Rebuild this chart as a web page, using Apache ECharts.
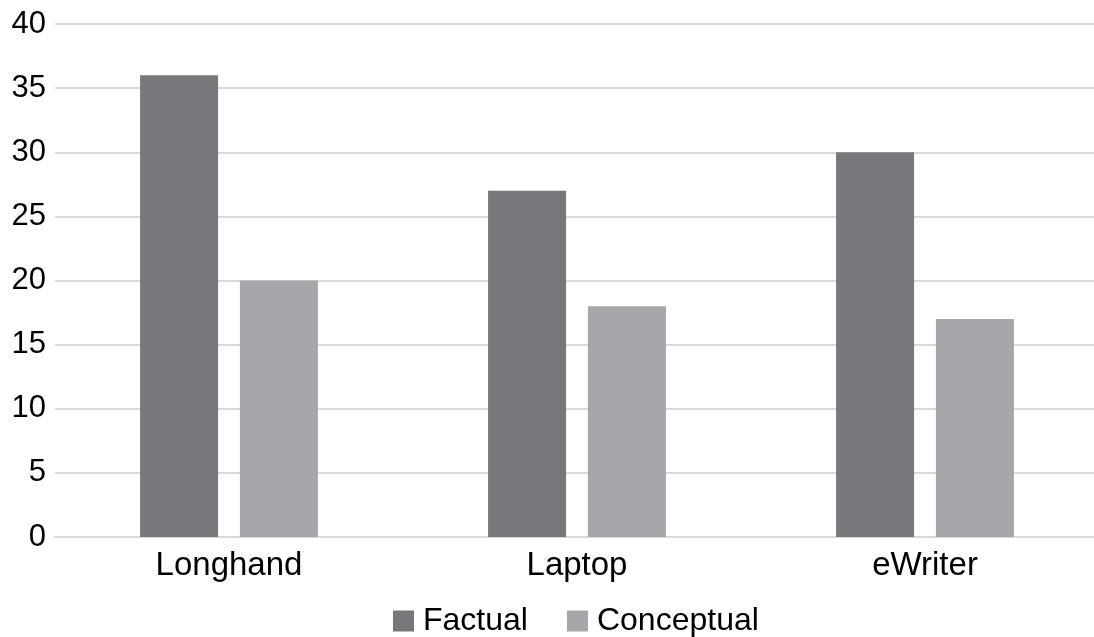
<!DOCTYPE html>
<html>
<head>
<meta charset="utf-8">
<style>
  html, body { margin: 0; padding: 0; background: #ffffff; overflow: hidden; }
  /* the plot runs slightly past the right edge of the page, so the chart box is a bit wider */
  #chart { width: 1099px; height: 637px; }
</style>
<script src="https://cdn.jsdelivr.net/npm/echarts@6/dist/echarts.min.js"></script>
</head>
<body>
<div id="chart"></div>
<script>
// Note-taking method categories and test scores by question type
const categories = ['Longhand', 'Laptop', 'eWriter'];
const factualScores = [36, 27, 30];
const conceptualScores = [20, 18, 17];
const seriesNames = ['Factual', 'Conceptual'];

const FONT = '"Liberation Sans", Arial, Helvetica, sans-serif';
const GRID_COLOR = '#d9d9d9';

const chart = echarts.init(document.getElementById('chart'), null, { renderer: 'canvas' });

chart.setOption({
  animation: false,
  backgroundColor: '#ffffff',
  textStyle: { fontFamily: FONT },
  grid: { left: 55, right: 0, top: 24, bottom: 100, containLabel: false },
  legend: {
    data: seriesNames,
    top: 600,
    left: 388,
    itemWidth: 21,
    itemHeight: 21,
    itemGap: 39,
    icon: 'rect',
    textStyle: { fontFamily: FONT, fontSize: 32, color: '#000000', padding: [0, 0, 0, 4] }
  },
  xAxis: {
    type: 'category',
    data: categories,
    axisLine: { show: true, lineStyle: { color: GRID_COLOR, width: 2 } },
    axisTick: { show: false },
    axisLabel: { fontFamily: FONT, fontSize: 33, color: '#000000', margin: 12 }
  },
  yAxis: {
    type: 'value',
    min: 0,
    max: 40,
    interval: 5,
    axisLine: { show: false },
    axisTick: { show: false },
    axisLabel: { fontFamily: FONT, fontSize: 31, color: '#000000', margin: 9 },
    splitLine: { show: true, lineStyle: { color: GRID_COLOR, width: 2 } }
  },
  series: [
    {
      name: seriesNames[0],
      type: 'bar',
      data: factualScores,
      barWidth: 78,
      barGap: '28%',
      itemStyle: { color: '#77787c' }
    },
    {
      name: seriesNames[1],
      type: 'bar',
      data: conceptualScores,
      barWidth: 78,
      barGap: '28%',
      itemStyle: { color: '#a6a7aa' }
    }
  ]
});
</script>
</body>
</html>
